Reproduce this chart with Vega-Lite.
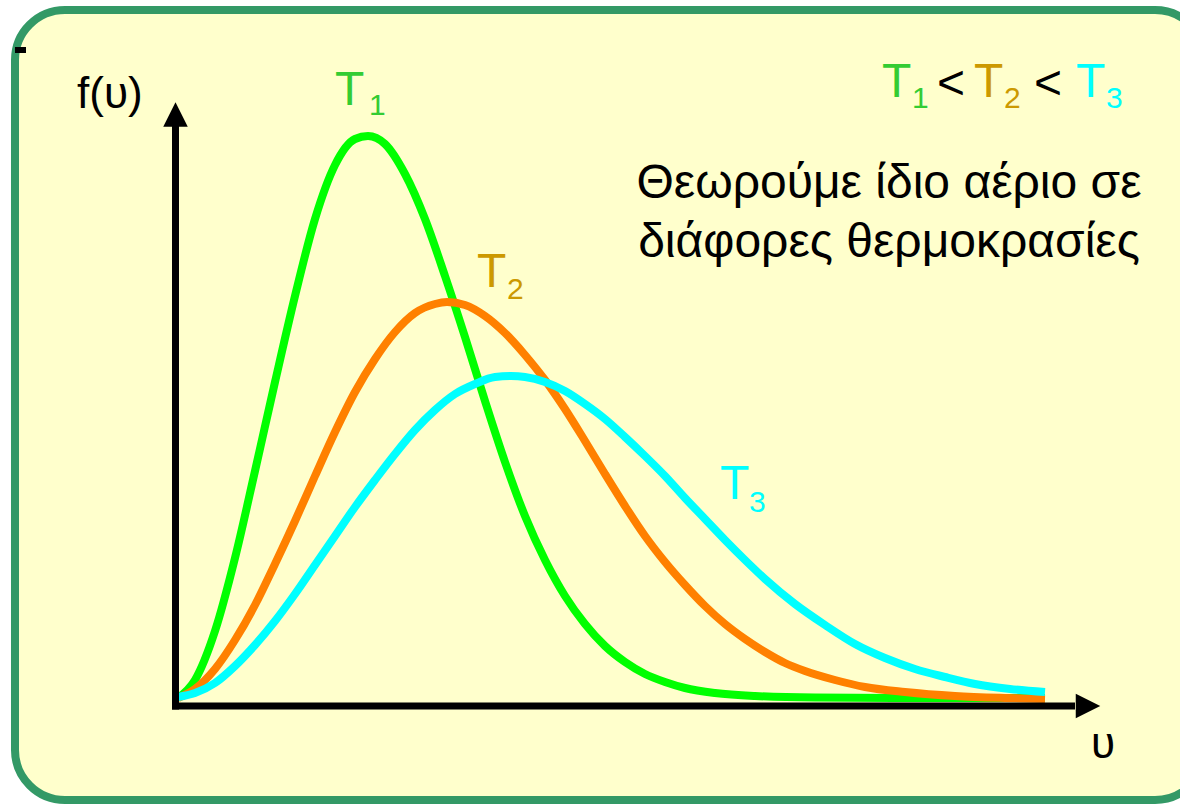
{
  "$schema": "https://vega.github.io/schema/vega-lite/v6.json",
  "autosize": {"type": "none"},
  "width": 1180,
  "height": 805,
  "padding": 0,
  "config": {
    "background": "white",
    "view": {"stroke": null},
    "text": {"font": "Liberation Sans"}
  },
  "resolve": {"scale": {"color": "independent"}},
  "layer": [
    {
      "data": {"values": [{}]},
      "mark": {"type": "rect", "fill": "#FFFFCC", "stroke": "#339966", "strokeWidth": 8, "cornerRadius": 50},
      "encoding": {
        "x": {"datum": -1.6, "type": "quantitative", "scale": {"domain": [-1.75, 10.05], "nice": false, "zero": false}, "axis": null},
        "x2": {"datum": 10.3},
        "y": {"datum": 6.95, "type": "quantitative", "scale": {"domain": [-1.0, 7.05], "nice": false, "zero": false}, "axis": null},
        "y2": {"datum": -0.95}
      }
    },
    {
      "data": {"values": [
        {"s": "T1", "u": 0.03, "f": 0.07}, {"s": "T1", "u": 0.2, "f": 0.25}, {"s": "T1", "u": 0.4, "f": 0.74}, {"s": "T1", "u": 0.6, "f": 1.47},
        {"s": "T1", "u": 0.8, "f": 2.34}, {"s": "T1", "u": 1.0, "f": 3.23}, {"s": "T1", "u": 1.2, "f": 4.09}, {"s": "T1", "u": 1.4, "f": 4.86},
        {"s": "T1", "u": 1.6, "f": 5.40}, {"s": "T1", "u": 1.8, "f": 5.66}, {"s": "T1", "u": 1.93, "f": 5.69}, {"s": "T1", "u": 2.1, "f": 5.61},
        {"s": "T1", "u": 2.3, "f": 5.31}, {"s": "T1", "u": 2.5, "f": 4.86}, {"s": "T1", "u": 2.7, "f": 4.29}, {"s": "T1", "u": 2.9, "f": 3.68},
        {"s": "T1", "u": 3.1, "f": 3.04}, {"s": "T1", "u": 3.3, "f": 2.43}, {"s": "T1", "u": 3.5, "f": 1.89}, {"s": "T1", "u": 3.7, "f": 1.45},
        {"s": "T1", "u": 3.9, "f": 1.09}, {"s": "T1", "u": 4.1, "f": 0.81}, {"s": "T1", "u": 4.3, "f": 0.59}, {"s": "T1", "u": 4.5, "f": 0.43},
        {"s": "T1", "u": 4.7, "f": 0.31}, {"s": "T1", "u": 4.9, "f": 0.23}, {"s": "T1", "u": 5.1, "f": 0.17}, {"s": "T1", "u": 5.4, "f": 0.12},
        {"s": "T1", "u": 5.8, "f": 0.09}, {"s": "T1", "u": 6.4, "f": 0.075}, {"s": "T1", "u": 7.5, "f": 0.07}, {"s": "T1", "u": 8.7, "f": 0.07},
        {"s": "T2", "u": 0.03, "f": 0.07}, {"s": "T2", "u": 0.2, "f": 0.16}, {"s": "T2", "u": 0.4, "f": 0.36}, {"s": "T2", "u": 0.6, "f": 0.65},
        {"s": "T2", "u": 0.8, "f": 1.00}, {"s": "T2", "u": 1.0, "f": 1.41}, {"s": "T2", "u": 1.2, "f": 1.84}, {"s": "T2", "u": 1.4, "f": 2.29},
        {"s": "T2", "u": 1.6, "f": 2.73}, {"s": "T2", "u": 1.8, "f": 3.13}, {"s": "T2", "u": 2.0, "f": 3.46}, {"s": "T2", "u": 2.2, "f": 3.73},
        {"s": "T2", "u": 2.4, "f": 3.92}, {"s": "T2", "u": 2.6, "f": 4.01}, {"s": "T2", "u": 2.72, "f": 4.03}, {"s": "T2", "u": 2.9, "f": 4.00},
        {"s": "T2", "u": 3.1, "f": 3.89}, {"s": "T2", "u": 3.3, "f": 3.72}, {"s": "T2", "u": 3.5, "f": 3.50}, {"s": "T2", "u": 3.7, "f": 3.25},
        {"s": "T2", "u": 3.9, "f": 2.96}, {"s": "T2", "u": 4.1, "f": 2.64}, {"s": "T2", "u": 4.3, "f": 2.31}, {"s": "T2", "u": 4.5, "f": 1.99},
        {"s": "T2", "u": 4.7, "f": 1.69}, {"s": "T2", "u": 4.9, "f": 1.43}, {"s": "T2", "u": 5.1, "f": 1.20}, {"s": "T2", "u": 5.3, "f": 0.99},
        {"s": "T2", "u": 5.5, "f": 0.81}, {"s": "T2", "u": 5.7, "f": 0.66}, {"s": "T2", "u": 5.9, "f": 0.53}, {"s": "T2", "u": 6.1, "f": 0.42},
        {"s": "T2", "u": 6.3, "f": 0.34}, {"s": "T2", "u": 6.6, "f": 0.25}, {"s": "T2", "u": 6.9, "f": 0.18}, {"s": "T2", "u": 7.3, "f": 0.13},
        {"s": "T2", "u": 7.8, "f": 0.09}, {"s": "T2", "u": 8.3, "f": 0.07}, {"s": "T2", "u": 8.7, "f": 0.06},
        {"s": "T3", "u": 0.03, "f": 0.08}, {"s": "T3", "u": 0.2, "f": 0.12}, {"s": "T3", "u": 0.4, "f": 0.22}, {"s": "T3", "u": 0.6, "f": 0.39},
        {"s": "T3", "u": 0.8, "f": 0.60}, {"s": "T3", "u": 1.0, "f": 0.84}, {"s": "T3", "u": 1.2, "f": 1.11}, {"s": "T3", "u": 1.4, "f": 1.40},
        {"s": "T3", "u": 1.6, "f": 1.69}, {"s": "T3", "u": 1.8, "f": 1.98}, {"s": "T3", "u": 2.0, "f": 2.25}, {"s": "T3", "u": 2.2, "f": 2.51},
        {"s": "T3", "u": 2.4, "f": 2.75}, {"s": "T3", "u": 2.6, "f": 2.95}, {"s": "T3", "u": 2.8, "f": 3.11}, {"s": "T3", "u": 3.0, "f": 3.21},
        {"s": "T3", "u": 3.2, "f": 3.28}, {"s": "T3", "u": 3.36, "f": 3.29}, {"s": "T3", "u": 3.5, "f": 3.28}, {"s": "T3", "u": 3.7, "f": 3.23},
        {"s": "T3", "u": 3.9, "f": 3.14}, {"s": "T3", "u": 4.1, "f": 3.01}, {"s": "T3", "u": 4.3, "f": 2.86}, {"s": "T3", "u": 4.5, "f": 2.68},
        {"s": "T3", "u": 4.7, "f": 2.49}, {"s": "T3", "u": 4.9, "f": 2.29}, {"s": "T3", "u": 5.1, "f": 2.07}, {"s": "T3", "u": 5.3, "f": 1.86},
        {"s": "T3", "u": 5.5, "f": 1.65}, {"s": "T3", "u": 5.7, "f": 1.45}, {"s": "T3", "u": 5.9, "f": 1.26}, {"s": "T3", "u": 6.2, "f": 1.01},
        {"s": "T3", "u": 6.5, "f": 0.80}, {"s": "T3", "u": 6.8, "f": 0.61}, {"s": "T3", "u": 7.1, "f": 0.47}, {"s": "T3", "u": 7.4, "f": 0.36},
        {"s": "T3", "u": 7.7, "f": 0.28}, {"s": "T3", "u": 8.0, "f": 0.21}, {"s": "T3", "u": 8.35, "f": 0.16}, {"s": "T3", "u": 8.7, "f": 0.13}
      ]},
      "mark": {"type": "line", "strokeWidth": 8, "interpolate": "monotone", "strokeJoin": "round"},
      "encoding": {
        "x": {"field": "u", "type": "quantitative"},
        "y": {"field": "f", "type": "quantitative"},
        "color": {"field": "s", "type": "nominal", "scale": {"domain": ["T1", "T2", "T3"], "range": ["#00FF00", "#FF8000", "#00FFFF"]}, "legend": null}
      }
    },
    {
      "data": {"values": [{}]},
      "mark": {"type": "rule", "color": "black", "strokeWidth": 7},
      "encoding": {
        "x": {"datum": 0.005, "type": "quantitative"},
        "y": {"datum": -0.045, "type": "quantitative"},
        "y2": {"datum": 5.85}
      }
    },
    {
      "data": {"values": [{}]},
      "mark": {"type": "rule", "color": "black", "strokeWidth": 7},
      "encoding": {
        "x": {"datum": -0.03, "type": "quantitative"},
        "x2": {"datum": 9.0},
        "y": {"datum": -0.01, "type": "quantitative"}
      }
    },
    {
      "data": {"values": [{}]},
      "mark": {"type": "rule", "color": "black", "strokeWidth": 6},
      "encoding": {
        "x": {"datum": -1.6, "type": "quantitative"},
        "x2": {"datum": -1.49},
        "y": {"datum": 6.55, "type": "quantitative"}
      }
    },
    {
      "data": {"values": [{}]},
      "mark": {"type": "point", "shape": "M0,-1L1,1L-1,1Z", "size": 600, "filled": true, "color": "black", "opacity": 1},
      "encoding": {
        "x": {"datum": 0.005, "type": "quantitative"},
        "y": {"datum": 5.905, "type": "quantitative"}
      }
    },
    {
      "data": {"values": [{}]},
      "mark": {"type": "point", "shape": "M1,0L-1,-1L-1,1Z", "size": 600, "filled": true, "color": "black", "opacity": 1},
      "encoding": {
        "x": {"datum": 9.13, "type": "quantitative"},
        "y": {"datum": -0.01, "type": "quantitative"}
      }
    },
    {
      "data": {"values": [
        {"s": "T1", "u": 1.60, "f": 6.00}, {"s": "T2", "u": 3.02, "f": 4.18}, {"s": "T3", "u": 5.45, "f": 2.06},
        {"s": "T1", "u": 7.07, "f": 6.08}, {"s": "T2", "u": 7.99, "f": 6.08}, {"s": "T3", "u": 9.01, "f": 6.08}
      ]},
      "mark": {"type": "text", "text": "T", "fontSize": 48, "align": "left", "baseline": "alphabetic"},
      "encoding": {
        "x": {"field": "u", "type": "quantitative"},
        "y": {"field": "f", "type": "quantitative"},
        "color": {"field": "s", "type": "nominal", "scale": {"domain": ["T1", "T2", "T3"], "range": ["#33CC33", "#CC9900", "#00FFFF"]}, "legend": null}
      }
    },
    {
      "data": {"values": [
        {"s": "T1", "n": "1", "u": 1.94, "f": 5.90}, {"s": "T2", "n": "2", "u": 3.32, "f": 4.06}, {"s": "T3", "n": "3", "u": 5.74, "f": 1.93},
        {"s": "T1", "n": "1", "u": 7.37, "f": 5.97}, {"s": "T2", "n": "2", "u": 8.29, "f": 5.97}, {"s": "T3", "n": "3", "u": 9.31, "f": 5.97}
      ]},
      "mark": {"type": "text", "fontSize": 30, "align": "left", "baseline": "alphabetic"},
      "encoding": {
        "x": {"field": "u", "type": "quantitative"},
        "y": {"field": "f", "type": "quantitative"},
        "text": {"field": "n"},
        "color": {"field": "s", "type": "nominal", "scale": {"domain": ["T1", "T2", "T3"], "range": ["#33CC33", "#CC9900", "#00FFFF"]}, "legend": null}
      }
    },
    {
      "data": {"values": [{"u": 7.62, "f": 6.06}, {"u": 8.59, "f": 6.06}]},
      "mark": {"type": "text", "text": "<", "fontSize": 48, "align": "left", "baseline": "alphabetic", "color": "black"},
      "encoding": {
        "x": {"field": "u", "type": "quantitative"},
        "y": {"field": "f", "type": "quantitative"}
      }
    },
    {
      "data": {"values": [
        {"t": "Θεωρούμε ίδιο αέριο σε", "u": 7.14, "f": 5.07},
        {"t": "διάφορες θερμοκρασίες", "u": 7.14, "f": 4.48}
      ]},
      "mark": {"type": "text", "fontSize": 48, "align": "center", "baseline": "alphabetic", "color": "black"},
      "encoding": {
        "x": {"field": "u", "type": "quantitative"},
        "y": {"field": "f", "type": "quantitative"},
        "text": {"field": "t"}
      }
    },
    {
      "data": {"values": [
        {"t": "f(υ)", "u": -0.98, "f": 5.97},
        {"t": "υ", "u": 9.16, "f": -0.53}
      ]},
      "mark": {"type": "text", "fontSize": 44, "align": "left", "baseline": "alphabetic", "color": "black"},
      "encoding": {
        "x": {"field": "u", "type": "quantitative"},
        "y": {"field": "f", "type": "quantitative"},
        "text": {"field": "t"}
      }
    }
  ]
}
